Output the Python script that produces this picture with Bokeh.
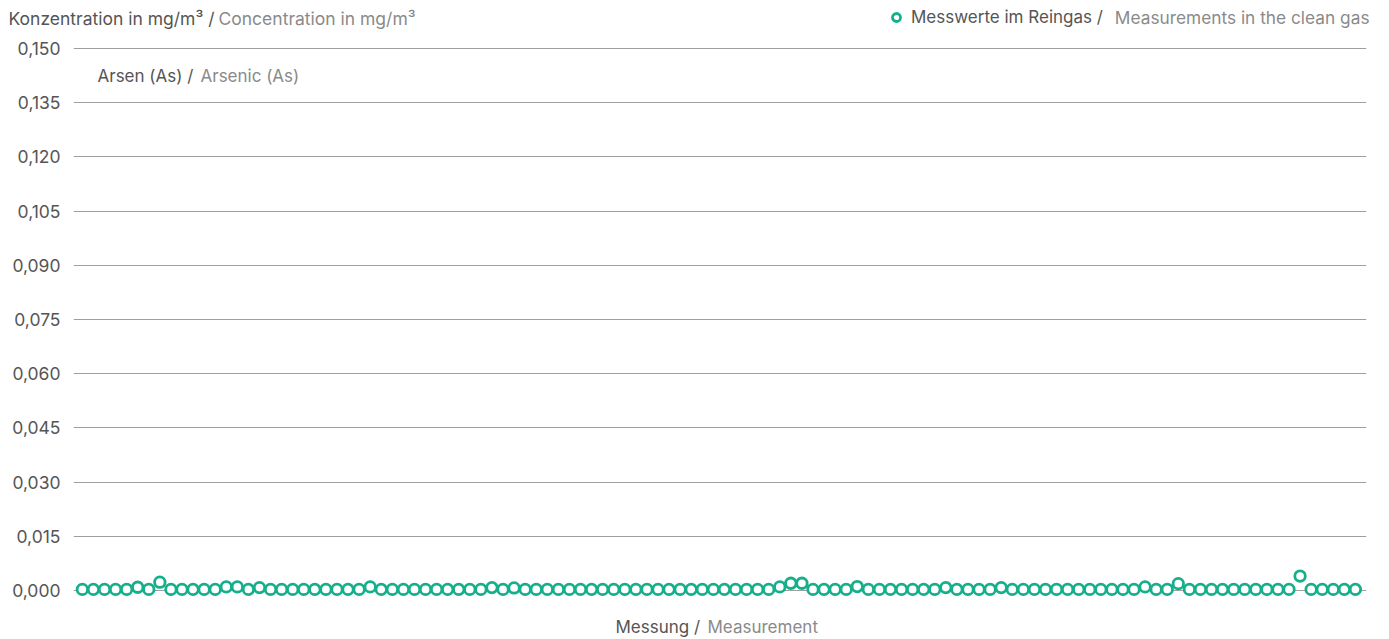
from bokeh.plotting import figure
from bokeh.layouts import column
from bokeh.models import Range1d, FixedTicker, Label, Legend, LegendItem, ColumnDataSource
from bokeh.embed import file_html
from bokeh.resources import INLINE

# ---- data ----
n_points = 116
base = 0.0003
values = [base] * n_points
raised = {5: 0.0009, 7: 0.0023, 13: 0.0010, 14: 0.0010, 16: 0.0008, 26: 0.0010,
          37: 0.0008, 39: 0.0007, 63: 0.0010, 64: 0.0020, 65: 0.0020, 70: 0.0011,
          78: 0.0008, 83: 0.0008, 96: 0.0010, 99: 0.0019, 110: 0.0040}
for k, v in raised.items():
    values[k] = v
measurement = list(range(n_points))

y_ticks = [0.0, 0.015, 0.030, 0.045, 0.060, 0.075, 0.090, 0.105, 0.120, 0.135, 0.150]
y_tick_labels = ["0,000", "0,015", "0,030", "0,045", "0,060", "0,075",
                 "0,090", "0,105", "0,120", "0,135", "0,150"]

title_de = "Konzentration in mg/m³ /"
title_en = "Concentration in mg/m³"
series_de = "Messwerte im Reingas /"
series_en = "Measurements in the clean gas"
element_de = "Arsen (As) /"
element_en = "Arsenic (As)"
xlabel_de = "Messung /"
xlabel_en = "Measurement"

GREEN = "#15b08b"
DARK = "#555555"
LIGHT = "#8a8a8a"
FONT = "Inter"
FS = "17px"

W = 1389
TOP_H = 36
MAIN_H = 639 - TOP_H

# ---------- top strip: title + legend ----------
top = figure(width=W, height=TOP_H, output_backend="svg", toolbar_location=None,
             x_range=Range1d(0, W), y_range=Range1d(0, TOP_H),
             x_axis_location=None, y_axis_location=None,
             min_border_left=0, min_border_right=0, min_border_top=0, min_border_bottom=0)
top.frame_align = False
top.outline_line_color = None
top.grid.visible = False

# legend key renderer (same style as the data markers, kept outside the strip's view)
key = top.scatter(x=[-100], y=[-100], marker="circle", size=10.5, line_width=2.8,
                  line_color=GREEN, fill_color="white")
legend = Legend(items=[LegendItem(label=series_de, renderers=[key])], location=(886, 9),
                label_text_font=FONT, label_text_font_size=FS, label_text_color=DARK,
                glyph_width=20, glyph_height=20, label_height=20, label_standoff=5,
                padding=0, spacing=0, margin=0, border_line_alpha=0, background_fill_alpha=0)
top.add_layout(legend, "center")


def lab(fig, x, y, text, color, align="left", size=FS):
    fig.add_layout(Label(x=x, y=y, x_units="screen", y_units="screen", text=text,
                         text_font=FONT, text_font_size=size, text_color=color,
                         text_align=align, text_baseline="middle"))


lab(top, 8, TOP_H - 18, title_de, DARK, size="17.5px")
lab(top, 218, TOP_H - 18, title_en, LIGHT, size="17.5px")
lab(top, 1369, TOP_H - 17, series_en, LIGHT, "right", size="17.3px")

# ---------- main chart ----------
px_per_unit = 542 / 0.150          # 0.150 -> 48 px, 0.000 -> 590 px (canvas)
y_top = 0.150 + (48 - TOP_H) / px_per_unit
y_bot = -(639 - 590) / px_per_unit

p = figure(width=W, height=MAIN_H, output_backend="svg", toolbar_location=None,
           x_range=Range1d(-0.8, 116), y_range=Range1d(y_bot, y_top),
           x_axis_location=None,
           min_border_left=73, min_border_right=23, min_border_top=0, min_border_bottom=0)
p.frame_align = False
p.outline_line_color = None
p.xgrid.visible = False

p.yaxis.ticker = FixedTicker(ticks=y_ticks)
p.yaxis.major_label_overrides = {t: l for t, l in zip(y_ticks, y_tick_labels)}
p.yaxis.axis_line_color = None
p.yaxis.major_tick_line_color = None
p.yaxis.minor_tick_line_color = None
p.yaxis.major_tick_out = 0
p.yaxis.major_tick_in = 0
p.yaxis.major_label_standoff = 13
p.yaxis.major_label_text_font = FONT
p.yaxis.major_label_text_font_size = "17.5px"
p.yaxis.major_label_text_color = DARK
p.ygrid.ticker = FixedTicker(ticks=y_ticks)
p.ygrid.grid_line_color = "#a0a0a0"
p.ygrid.grid_line_width = 1

src = ColumnDataSource(dict(x=measurement, y=values))
p.scatter("x", "y", source=src, marker="circle", size=10.5, line_width=2.8,
          line_color=GREEN, fill_color="white")

# frame-relative screen coords (frame: x 73..1366, y bottom=0 .. top=MAIN_H)
lab(p, 97 - 73, MAIN_H - (75 - TOP_H), element_de, DARK)
lab(p, 200 - 73, MAIN_H - (75 - TOP_H), element_en, LIGHT)
lab(p, 615 - 73, MAIN_H - (626 - TOP_H), xlabel_de, DARK)
lab(p, 707 - 73, MAIN_H - (626 - TOP_H), xlabel_en, LIGHT)

layout = column(top, p, spacing=0)
open("out.html", "w").write(file_html(layout, INLINE))
